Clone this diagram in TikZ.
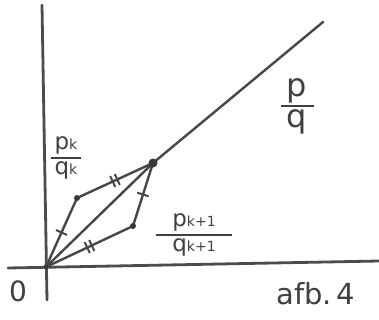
\documentclass[tikz,border=0pt]{standalone}
\usepackage{amsmath}
\usepackage{fontspec}
\setmainfont{DejaVu Sans}
\newcommand\hfr[3]{\genfrac{}{}{2.2pt}{1}{\makebox[#3]{#1}}{\makebox[#3]{#2}}}
\newcommand\sub[1]{{\fontsize{14}{14}\selectfont #1}}
\tikzset{
  ink/.style={line width=2.4pt, draw=black!72, line cap=round, line join=round},
  axis/.style={line width=2.8pt, draw=black!70, line cap=round},
  dot/.style={circle, fill=black!78, inner sep=0pt, minimum size=6pt},
  lbl/.style={text=black!75, inner sep=0pt},
  tick1/.style={sloped, midway, inner sep=0pt, text=black!72},
}
\begin{document}
\begin{tikzpicture}[x=1pt,y=-1pt]
\useasboundingbox[fill=white] (0,0) rectangle (379,320);
% axes
\coordinate (vt) at (42,5);
\coordinate (vb) at (47,300);
\coordinate (hl) at (8,268);
\coordinate (hr) at (379,261);
\draw[axis] (vt) -- (vb);
\draw[axis] (hl) -- (hr);
% points
\coordinate (O) at (46,267);
\coordinate (A) at (77,198);
\coordinate (T) at (153,163);
\coordinate (B) at (133,226);
\coordinate (E) at (323,22);
% diagonal
\draw[ink] (O) -- (T) -- (E);
% parallelogram
\draw[ink] (O) -- (A) node[tick1]{\rule[-6pt]{2pt}{12pt}};
\draw[ink] (A) -- (T) node[tick1]{\rule[-6pt]{2pt}{12pt}\hspace{3pt}\rule[-6pt]{2pt}{12pt}};
\draw[ink] (T) -- (B) node[tick1]{\rule[-6pt]{2pt}{12pt}};
\draw[ink] (O) -- (B) node[tick1]{\rule[-6pt]{2pt}{12pt}\hspace{3pt}\rule[-6pt]{2pt}{12pt}};
\node[dot] (dA) at (A) {};
\node[dot, minimum size=9pt] (dT) at (T) {};
\node[dot] (dB) at (B) {};
\node[dot, minimum size=5pt] (dO) at (O) {};
% labels
\node[lbl, font=\fontsize{32}{32}\selectfont] (pq) at (297,106) {$\hfr{p}{q}{33pt}$};
\node[lbl, font=\fontsize{23}{23}\selectfont] (pkqk) at (66,158) {$\hfr{p\sub{k}}{q\sub{k}}{30pt}$};
\node[lbl, font=\fontsize{23}{23}\selectfont] (pk1) at (194,235) {$\hfr{p\sub{k+1}}{q\sub{k+1}}{76pt}$};
\node[lbl, font=\fontsize{28}{28}\selectfont] (zero) at (18,291) {0};
\node[lbl, font=\fontsize{29}{29}\selectfont] (afb) at (316,294) {afb.\,4};
\end{tikzpicture}
\end{document}
